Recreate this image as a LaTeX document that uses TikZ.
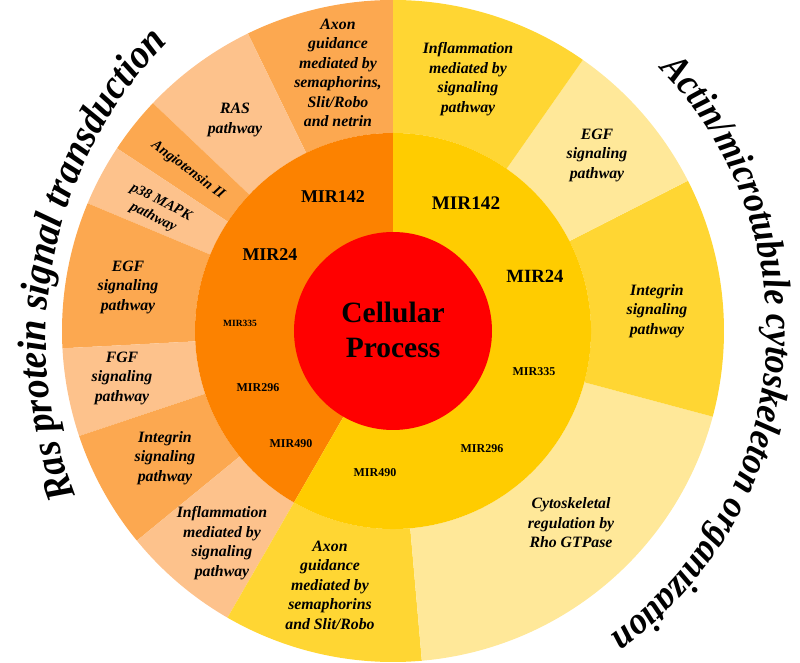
\documentclass[tikz,border=0pt]{standalone}
\usepackage{fontspec}
\setmainfont{Liberation Serif}
\newfontfamily\arcfamily{Liberation Serif}[FakeStretch=0.92]
\usepackage{xcolor}
\usetikzlibrary{decorations.text}
\definecolor{corered}{RGB}{255,0,0}
\definecolor{midorange}{RGB}{252,130,0}
\definecolor{midyellow}{RGB}{255,204,0}
\definecolor{darkpeach}{RGB}{252,168,80}
\definecolor{lightpeach}{RGB}{253,194,140}
\definecolor{goldyellow}{RGB}{255,214,51}
\definecolor{paleyellow}{RGB}{255,232,153}
\newcommand{\leftarcfont}{\arcfamily\fontsize{41}{43}\selectfont\bfseries\itshape}
\newcommand{\rightarcfont}{\arcfamily\fontsize{38.5}{41}\selectfont\bfseries\itshape}

\begin{document}
\begin{tikzpicture}[x=1pt, y=1pt,
  pathlabel/.style={font=\fontsize{15.8}{19.5}\selectfont\bfseries\itshape, align=center},
  smallpath/.style={font=\fontsize{14.5}{17}\selectfont\bfseries\itshape, align=center},
  mirbig/.style={font=\fontsize{18}{20}\selectfont\bfseries},
  mirsmall/.style={font=\fontsize{12}{14}\selectfont\bfseries}]
  \useasboundingbox (-393,-332) rectangle (407,331);
  % outer ring
  \foreach \a/\b/\c in {90/116/darkpeach, 116/136.5/lightpeach, 136.5/146.5/darkpeach, 146.5/157.3/lightpeach,
      157.3/183/darkpeach, 183/198.5/lightpeach, 198.5/219.3/darkpeach, 219.3/240/lightpeach,
      240/275/goldyellow, 275/345/paleyellow, 345/387/goldyellow, 387/415/paleyellow, 415/450/goldyellow} {
    \fill[\c] (\a:198) arc[start angle=\a, end angle=\b, radius=198] -- (\b:331)
      arc[start angle=\b, end angle=\a, radius=331] -- cycle;
  }
  % middle ring and core
  \fill[midorange] (0,0) -- (90:198) arc[start angle=90, end angle=240, radius=198] -- cycle;
  \fill[midyellow] (0,0) -- (240:198) arc[start angle=240, end angle=450, radius=198] -- cycle;
  \fill[corered] (0,0) circle[radius=99];
  \node[font=\fontsize{29.5}{35}\selectfont\bfseries, align=center] (core) at (0,1) {Cellular\\Process};

  \node[mirbig] (mirL142) at (-60,134) {MIR142};
  \node[mirbig] (mirL24) at (-123,76) {MIR24};
  \node[mirsmall, font=\fontsize{9.5}{11}\selectfont\bfseries] (mirL335) at (-153,8) {MIR335};
  \node[mirsmall] (mirL296) at (-135,-57) {MIR296};
  \node[mirsmall] (mirL490) at (-102,-113) {MIR490};
  \node[mirbig, font=\fontsize{19.2}{21}\selectfont\bfseries] (mirR142) at (73,128) {MIR142};
  \node[mirbig, font=\fontsize{18.7}{21}\selectfont\bfseries] (mirR24) at (142,55) {MIR24};
  \node[mirsmall] (mirR335) at (141,-41) {MIR335};
  \node[mirsmall] (mirR296) at (89,-118) {MIR296};
  \node[mirsmall] (mirR490) at (-18,-142) {MIR490};

  % left pathways
  \node[pathlabel] (axonL) at (-55,258) {Axon\\guidance\\mediated by\\semaphorins,\\Slit/Robo\\and netrin};
  \node[pathlabel] (rasL) at (-158,211) {RAS\\pathway};
  \node[smallpath, rotate=-37] (angioL) at (-205,161) {Angiotensin II};
  \node[smallpath, rotate=-27] (mapkL) at (-236,121) {p38 MAPK\\pathway};
  \node[pathlabel] (egfL) at (-265,44) {EGF\\signaling\\pathway};
  \node[pathlabel] (fgfL) at (-271,-47) {FGF\\signaling\\pathway};
  \node[pathlabel] (integrinL) at (-228,-127) {Integrin\\signaling\\pathway};
  \node[pathlabel] (inflamL) at (-171,-212) {Inflammation\\mediated by\\signaling\\pathway};
  % right pathways
  \node[pathlabel] (axonR) at (-63,-254) {Axon\\guidance\\mediated by\\semaphorins\\and Slit/Robo};
  \node[pathlabel] (inflamR) at (75,252) {Inflammation\\mediated by\\signaling\\pathway};
  \node[pathlabel] (egfR) at (204,176) {EGF\\signaling\\pathway};
  \node[pathlabel] (integrinR) at (264,20) {Integrin\\signaling\\pathway};
  \node[pathlabel] (cytoR) at (178,-192) {Cytoskeletal\\regulation by\\Rho GTPase};

  % curved titles
  \path[shift={(78,-9)}, decorate, decoration={text along path, text align=center,
      text={|\leftarcfont|Ras protein signal transduction}}]
    (201:425) arc[start angle=201, end angle=136, radius=425];
  \path[decorate, decoration={text along path, text align=center,
      text={|\rightarcfont|Actin/microtubule cytoskeleton organization}}]
    (45:374) arc[start angle=45, end angle=-55, radius=374];
\end{tikzpicture}
\end{document}
